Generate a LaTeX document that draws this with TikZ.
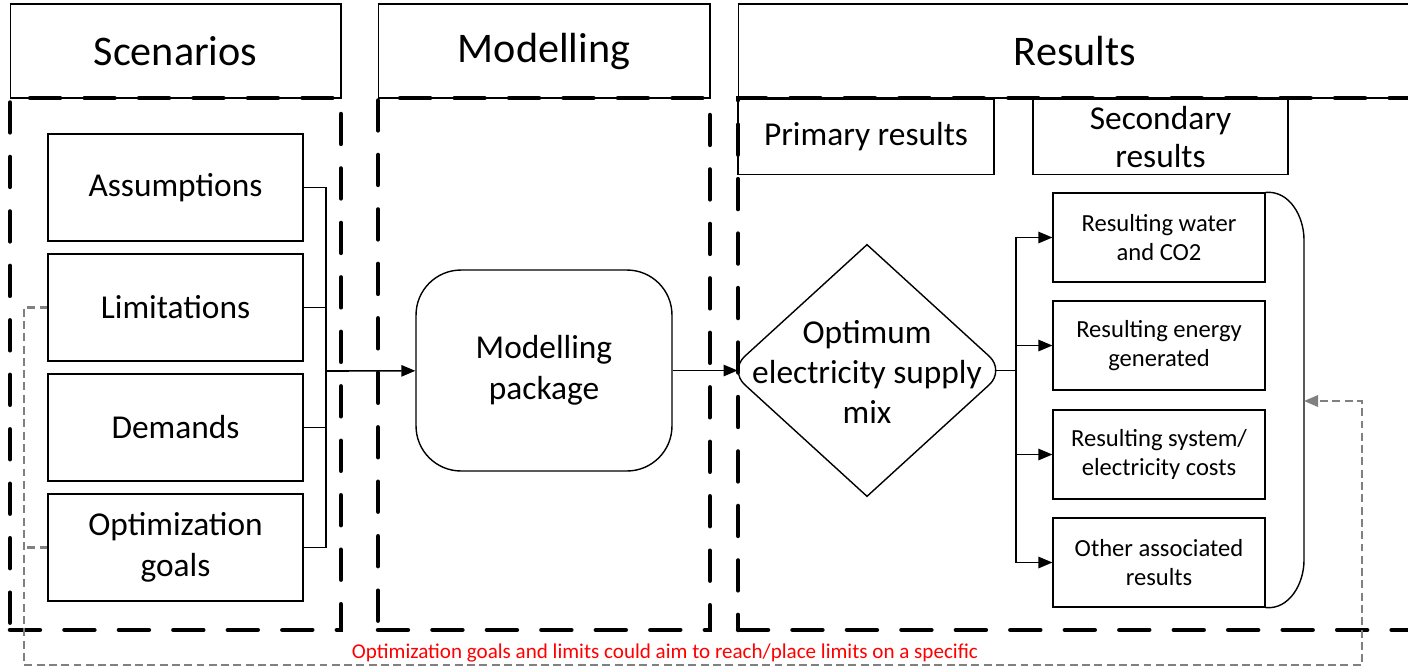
\documentclass[tikz,border=0pt]{standalone}
\usepackage{fontspec}
\setmainfont{Carlito}
\usetikzlibrary{arrows.meta,shapes.geometric,positioning}
\tikzset{
  hdr/.style={ draw, line width=0.6pt, minimum height=1.88cm, inner sep=0pt, font=\fontsize{24}{28}\selectfont }
}
\tikzset{
  secframe/.style={ draw, line width=2.6pt, line cap=round, dash pattern=on 17pt off 14pt, minimum height=10.64cm, inner sep=0pt }
}
\tikzset{
  subhdr/.style={ draw, line width=0.7pt, minimum height=1.5cm, inner sep=0pt, align=center, font=\fontsize{19}{22}\selectfont }
}
\tikzset{
  itemL/.style={ draw, line width=0.7pt, minimum width=5.1cm, minimum height=2.14cm, inner sep=0pt, align=center, font=\fontsize{19}{23}\selectfont }
}
\tikzset{
  itemR/.style={ draw, line width=0.7pt, minimum width=4.24cm, minimum height=1.78cm, inner sep=0pt, align=center, font=\fontsize{14}{16.5}\selectfont }
}
\tikzset{
  pkgbox/.style={ draw, line width=0.8pt, rounded corners=0.9cm, minimum width=5.12cm, minimum height=4.02cm, align=center, font=\fontsize{19}{23.5}\selectfont }
}
\tikzset{
  optdia/.style={ diamond, minimum width=5.5cm, minimum height=5.02cm, inner sep=0pt }
}
\tikzset{
  arr/.style={ line width=0.9pt, -{Triangle[length=8pt,width=6.5pt]} }
}
\tikzset{
  fb/.style={ draw=gray, line width=1.3pt, dash pattern=on 4.5pt off 2.5pt }
}

\begin{document}
\begin{tikzpicture}[x=0.02cm, y=-0.02cm]
      \useasboundingbox (0,0) rectangle (1408,667);

      % column headers
      \node[hdr, minimum width=6.62cm] (hScen) at (175.5, 51) {Scenarios};
      \node[hdr, minimum width=6.64cm] (hMod) at (544, 51) {Modelling};
      \node[hdr, minimum width=13.48cm] (hRes) at (1075, 51) {Results};

      \node[secframe, minimum width=6.62cm] (fScen) at (175.5, 364) {};
      \node[secframe, minimum width=6.64cm] (fMod) at (544, 364) {};
      \node[secframe, minimum width=13.48cm] (fRes) at (1075, 364) {};

      \node[subhdr, minimum width=5.12cm] (prim) at (866, 137) {Primary results};
      \node[subhdr, minimum width=5.1cm] (sec) at (1160.5, 137) {Secondary\\results};

      % scenario inputs
      \node[itemL] (assum) at (175.5, 187.5) {Assumptions};
      \node[itemL] (limit) at (175.5, 307.5) {Limitations};
      \node[itemL] (demand) at (175.5, 427.5) {Demands};
      \node[itemL] (goal) at (175.5, 547.5) {Optimization\\goals};

      \node[pkgbox] (pkg) at (544, 370.5) {Modelling\\package};

      \node[optdia] (opt) at (867, 370.5) {};
      \node[align=center, inner sep=0pt, font=\fontsize{19}{23}\selectfont] (optTxt) at (867, 372) {Optimum\\electricity supply\\mix};
      \draw[line width=0.8pt] (opt.north) [rounded corners=12pt] -- (opt.east) [sharp corners] -- (opt.south) [rounded corners=12pt] -- (opt.west) [sharp corners] -- cycle;

      % secondary results
      \node[itemR] (water) at (1159, 237.5) {Resulting water\\and CO2};
      \node[itemR] (energy) at (1159, 345.5) {Resulting energy\\generated};
      \node[itemR] (cost) at (1159, 454.5) {Resulting system/\\electricity costs};
      \node[itemR] (other) at (1159, 562.5) {Other associated\\results};

      \coordinate (busL) at (326, 371);
      \draw[line width=0.8pt] (assum.east) -| (busL);
      \draw[line width=0.8pt] (limit.east) -| (busL);
      \draw[line width=0.8pt] (demand.east) -| (busL);
      \draw[line width=0.8pt] (goal.east) -| (busL);
      \draw[arr] (busL) -- (pkg);
      \draw[arr, shorten >=-4.8pt] (pkg) -- (opt);

      \coordinate (busR) at (1016, 370.5);
      \draw[line width=0.8pt, shorten <=-4.8pt] (opt.east) -- (busR);
      \draw[arr] (busR) |- (water.west);
      \draw[arr] (busR) |- (energy.west);
      \draw[arr] (busR) |- (cost.west);
      \draw[arr] (busR) |- (other.west);

      % bracket round the secondary results
      \coordinate (brTop) at (1304, 240);
      \coordinate (brBot) at (1304, 560);
      \draw[line width=0.8pt] (water.north east) to[out=5, in=90] (brTop) -- (brBot) to[out=-90, in=-5] (other.south east);

      % feedback loop
      \coordinate (fbL) at (24, 665);
      \coordinate (fbR) at (1362, 665);
      \coordinate (fbEnd) at (1304, 401);
      \draw[fb, -{Triangle[length=8pt,width=6.5pt]}] (limit.west) -| (fbL) -- (fbR) |- (fbEnd);
      \draw[fb] (goal.west) -- (goal.west -| fbL);
      \node[text=red, font=\fontsize{12}{14}\selectfont, inner sep=0pt] (note) at (665, 653) {Optimization goals and limits could aim to reach/place limits on a specific};

    \end{tikzpicture}
\end{document}
